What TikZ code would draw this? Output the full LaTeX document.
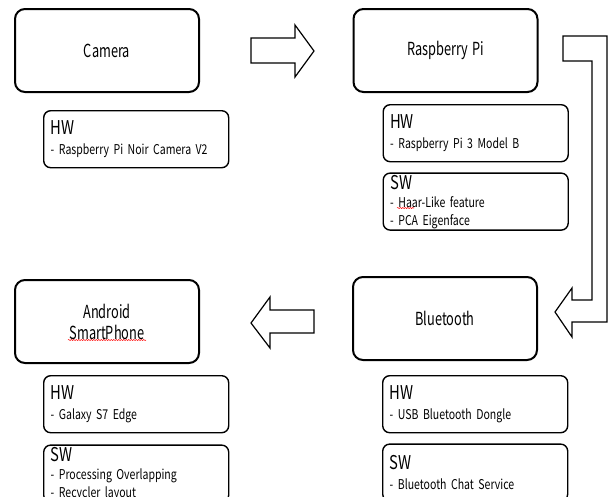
\documentclass[tikz,border=0pt]{standalone}
\usepackage{fontspec}
\setmainfont{Noto Sans CJK KR}[FakeStretch=0.78]
\newfontfamily\stagefont{Noto Sans CJK KR}[FakeStretch=0.71, WordSpace=1.5]
\usetikzlibrary{positioning,decorations.pathmorphing}

\newcommand{\hdr}[1]{{\fontsize{19}{19}\selectfont #1}}

\begin{document}
\begin{tikzpicture}[x=1pt, y=-1pt,
  mainbox/.style={rectangle, draw, line width=2pt, rounded corners=10pt, minimum width=184pt, minimum height=83pt, align=center, font=\stagefont\fontsize{18}{21}\selectfont},
  infobox/.style={rectangle, draw, line width=1.4pt, rounded corners=7pt, text width=171pt, inner xsep=7pt, inner ysep=0pt, minimum height=57pt, align=left, font=\fontsize{13.5}{18}\selectfont},
  blockarrow/.style={draw, line width=1.2pt, line join=miter},
  spell/.style={draw=red, line width=0.5pt, decorate, decoration={snake, amplitude=0.6pt, segment length=2.5pt}}
]
  \clip (0,0) rectangle (612,496);

  % main stages
  \node[mainbox] (cam) at (107,50.5) {Camera};
  \node[mainbox] (rpi) at (445.5,50.5) {Raspberry Pi};
  \node[mainbox] (bt) at (445,318.5) {Bluetooth};
  \node[mainbox] (phone) at (107,321.5) {Android\\SmartPhone};

  % hw / sw details
  \node[infobox, below right=17pt and 29pt of cam.south west, anchor=north west] (camhw) {\hdr{HW}\\[2pt]- Raspberry Pi Noir Camera V2};
  \node[infobox, below right=11pt and 30pt of rpi.south west, anchor=north west] (rpihw) {\hdr{HW}\\[2pt]- Raspberry Pi 3 Model B};
  \node[infobox, below=10pt of rpihw] (rpisw) {\hdr{SW}\\- Haar-Like feature\\- PCA Eigenface};
  \node[infobox, below right=14pt and 30pt of bt.south west, anchor=north west] (bthw) {\hdr{HW}\\[2pt]- USB Bluetooth Dongle};
  \node[infobox, below=10pt of bthw] (btsw) {\hdr{SW}\\[2pt]- Bluetooth Chat Service};
  \node[infobox, below right=11pt and 29pt of phone.south west, anchor=north west] (phonehw) {\hdr{HW}\\[2pt]- Galaxy S7 Edge};
  \node[infobox, below=11pt of phonehw] (phonesw) {\hdr{SW}\\- Processing Overlapping\\- Recycler layout};

  % block arrows
  \draw[blockarrow] (251,38) -- (295,38) -- (295,25) -- (314,51) -- (295,77) -- (295,63) -- (251,63) -- cycle;
  \draw[blockarrow] (563,36) -- (607,36) -- (607,322) -- (572,322) -- (572,337) -- (555,312)
    -- (572,288) -- (572,300) -- (592,300) -- (592,61) -- (563,61) -- cycle;
  \draw[blockarrow] (314,310) -- (270,310) -- (270,297) -- (251,323) -- (270,348) -- (270,333) -- (314,333) -- cycle;

  % spell check marks
  \draw[spell] (68,340) -- (146,340);
  \draw[spell] (397,208) -- (414,208);
\end{tikzpicture}
\end{document}
